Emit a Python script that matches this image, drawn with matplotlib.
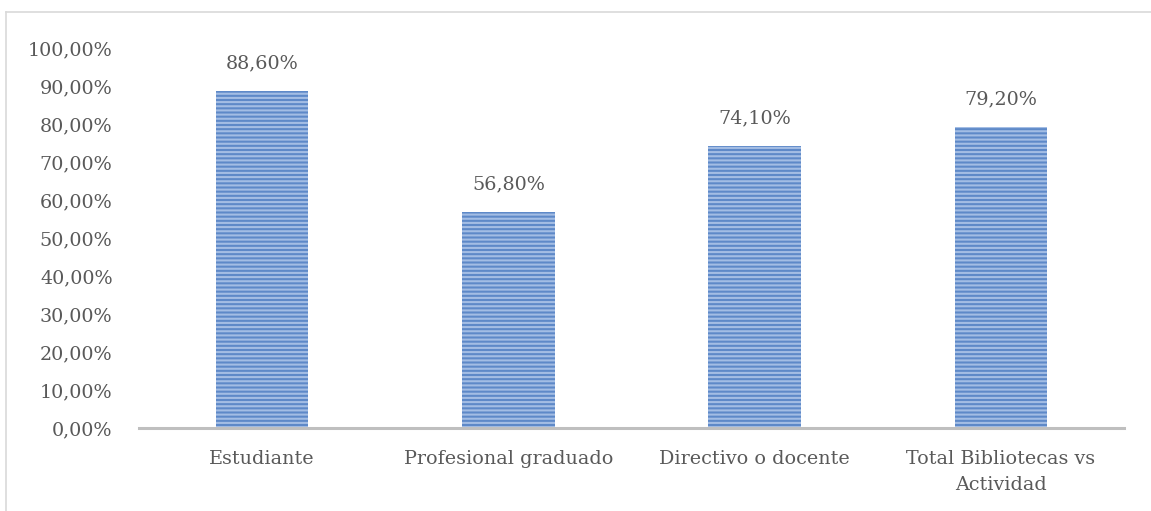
import matplotlib
matplotlib.use("Agg")
import matplotlib.pyplot as plt
from matplotlib.lines import Line2D

categories = ["Estudiante", "Profesional graduado", "Directivo o docente", "Total Bibliotecas vs\nActividad"]
values = [88.6, 56.8, 74.1, 79.2]
value_labels = ["88,60%", "56,80%", "74,10%", "79,20%"]
yticks = [0, 10, 20, 30, 40, 50, 60, 70, 80, 90, 100]
ytick_labels = ["0,00%", "10,00%", "20,00%", "30,00%", "40,00%", "50,00%",
                "60,00%", "70,00%", "80,00%", "90,00%", "100,00%"]

plt.rcParams['font.family'] = ['DejaVu Serif']
plt.rcParams['hatch.linewidth'] = 1.5
plt.rcParams['hatch.color'] = '#a3bde4'

W, H = 1151, 511
fig = plt.figure(figsize=(W/100, H/100), dpi=100)
ax = fig.add_axes([139/W, 1-428/H, (1124-139)/W, (428-48)/H])

x = list(range(len(categories)))
ax.bar(x, values, width=0.375, color='#5e89c8', edgecolor='#a3bde4', hatch='----', linewidth=0)
ax.set_xlim(-0.5, len(categories)-0.5)
ax.set_ylim(0, 100)

txtc = '#595959'
for xi, v, lab in zip(x, values, value_labels):
    ax.annotate(lab, (xi, v), xytext=(0, 20), textcoords='offset points',
                ha='center', va='center', fontsize=13.8, color=txtc, clip_on=False)

ax.set_yticks(yticks)
ax.set_yticklabels(ytick_labels, fontsize=13.8, color=txtc)
ax.set_xticks(x)
ax.set_xticklabels(categories, fontsize=13.8, color=txtc, linespacing=1.55)
ax.tick_params(axis='y', length=0, pad=19)
ax.tick_params(axis='x', length=0, pad=16)
for s in ['top', 'right', 'left']:
    ax.spines[s].set_visible(False)
ax.spines['bottom'].set_color('#bfbfbf')
ax.spines['bottom'].set_linewidth(2.2)

# outer frame (left and top)
fig.add_artist(Line2D([6/W, 6/W], [0, 1-12/H], color='#d9d9d9', lw=1.2, transform=fig.transFigure))
fig.add_artist(Line2D([6/W, 1.01], [1-12/H, 1-12/H], color='#d9d9d9', lw=1.2, transform=fig.transFigure))

fig.savefig('out.png', dpi=100)
